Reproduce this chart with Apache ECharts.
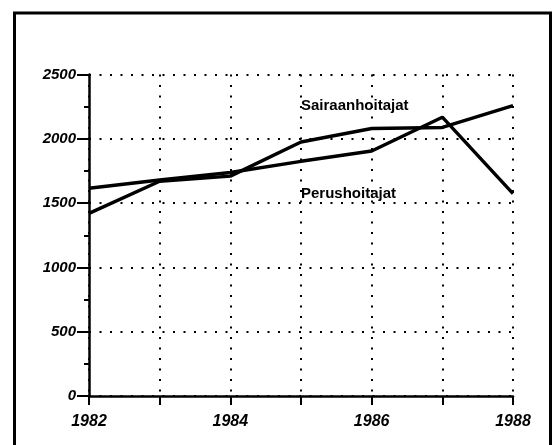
<!DOCTYPE html>
<html>
<head>
<meta charset="utf-8">
<script src="https://cdn.jsdelivr.net/npm/echarts@6/dist/echarts.min.js"></script>
<style>
  html, body { margin: 0; padding: 0; background: #fff; }
  #chart { width: 557px; height: 445px; }
</style>
</head>
<body>
<div id="chart"></div>
<script>
// vuodet ja sarjat
const years = ['1982', '1983', '1984', '1985', '1986', '1987', '1988'];
const sairaanhoitajat = [1420, 1670, 1710, 1975, 2080, 2088, 2258];
const perushoitajat = [1615, 1680, 1738, 1825, 1905, 2168, 1574];
const yTicks = [0, 500, 1000, 1500, 2000, 2500];

const font = "'Liberation Sans', Arial, sans-serif";
const dots = { color: '#000', width: 2, type: [2, 8.5] };

const chart = echarts.init(document.getElementById('chart'));

const lineLabel = (text, year, value) => ({
  symbol: 'circle',
  symbolSize: 0,
  data: [{ coord: [year, value] }],
  label: {
    show: true,
    position: 'inside',
    align: 'left',
    formatter: text,
    color: '#000',
    fontFamily: font,
    fontWeight: 'bold',
    fontSize: 15
  }
});

chart.setOption({
  animation: false,
  backgroundColor: '#fff',
  grid: { left: 89, right: 44, top: 74.5, bottom: 49 },
  // kehys
  graphic: [{
    type: 'rect',
    shape: { x: 14.5, y: 13, width: 536, height: 445 },
    style: { fill: 'none', stroke: '#000', lineWidth: 3 }
  }],
  xAxis: {
    type: 'category',
    data: years,
    boundaryGap: false,
    axisLine: { lineStyle: { color: '#000', width: 2.5 } },
    axisTick: { interval: 0, length: 9, lineStyle: { color: '#000', width: 2 } },
    axisLabel: {
      interval: 1,
      margin: 18,
      color: '#000',
      fontFamily: font,
      fontStyle: 'italic',
      fontWeight: 'bold',
      fontSize: 16
    },
    splitLine: { show: true, interval: 0, lineStyle: dots }
  },
  yAxis: {
    type: 'value',
    min: yTicks[0],
    max: yTicks[yTicks.length - 1],
    interval: 500,
    axisLine: { show: true, lineStyle: { color: '#000', width: 2.5 } },
    axisTick: { show: true, length: 12, lineStyle: { color: '#000', width: 2 } },
    minorTick: { show: true, splitNumber: 2, length: 5, lineStyle: { color: '#000', width: 2 } },
    axisLabel: {
      margin: 13,
      color: '#000',
      fontFamily: font,
      fontStyle: 'italic',
      fontWeight: 'bold',
      fontSize: 15,
      formatter: v => String(v)
    },
    splitLine: { show: true, lineStyle: dots }
  },
  series: [
    {
      name: 'Sairaanhoitajat',
      type: 'line',
      data: sairaanhoitajat,
      symbol: 'none',
      lineStyle: { color: '#000', width: 3.4 },
      markPoint: lineLabel('Sairaanhoitajat', '1985', 2255)
    },
    {
      name: 'Perushoitajat',
      type: 'line',
      data: perushoitajat,
      symbol: 'none',
      lineStyle: { color: '#000', width: 3.4 },
      markPoint: lineLabel('Perushoitajat', '1985', 1572)
    }
  ]
});
</script>
</body>
</html>
